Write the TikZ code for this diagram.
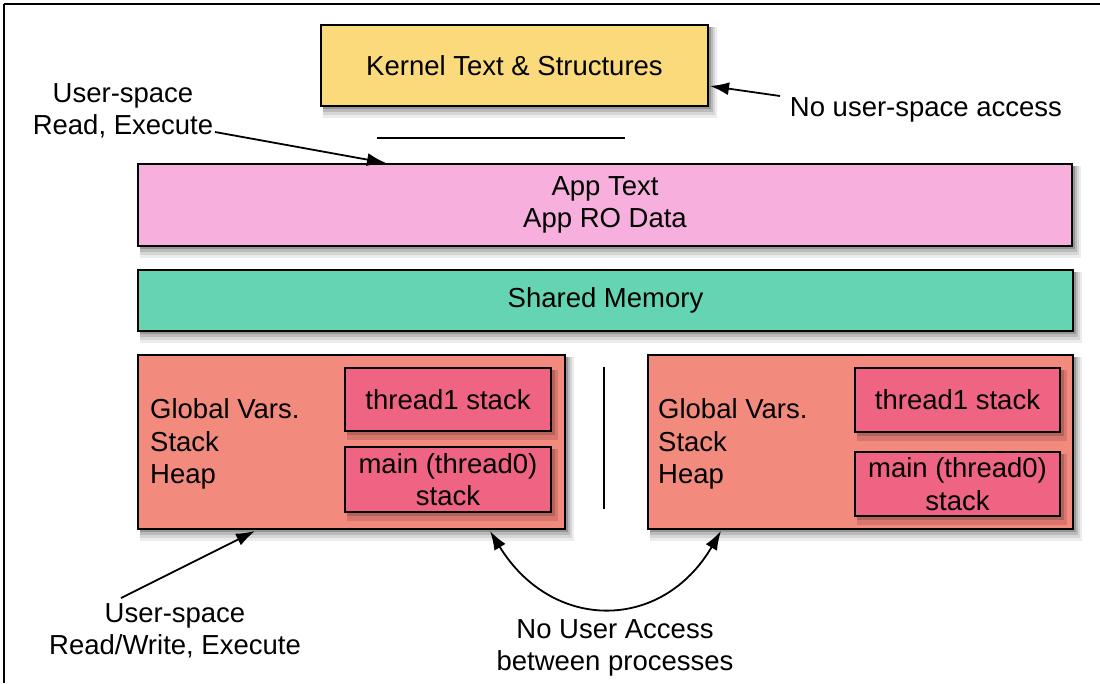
\documentclass[tikz,border=0pt]{standalone}
\usepackage{fontspec}
\setmainfont{Liberation Sans}
\usetikzlibrary{arrows.meta}
\definecolor{kernelc}{RGB}{250,218,122}
\definecolor{appc}{RGB}{247,175,221}
\definecolor{sharedc}{RGB}{100,212,178}
\definecolor{procc}{RGB}{243,138,126}
\definecolor{innerc}{RGB}{239,100,131}
\definecolor{sh1}{RGB}{236,236,236}
\definecolor{sh2}{RGB}{214,214,214}
\definecolor{sh3}{RGB}{186,186,186}
\definecolor{sh4}{RGB}{150,150,150}
\definecolor{ish1}{RGB}{214,118,108}
\definecolor{ish2}{RGB}{180,98,90}
\tikzset{
  membox/.style={draw=black,line width=1.6pt,inner sep=0pt,align=center},
  lbl/.style={font=\fontsize{27.5}{32.5}\selectfont,align=center,inner sep=0pt},
  arr/.style={-{Latex[length=19pt,width=13pt]},line width=1.8pt},
  darr/.style={{Latex[length=19pt,width=13pt]}-{Latex[length=19pt,width=13pt]},line width=1.8pt}
}
\begin{document}
\begin{tikzpicture}[x=1pt,y=-1pt]
\useasboundingbox (0,0) rectangle (1100,683);
\fill[white] (0,0) rectangle (1100,683);
% frame
\draw[line width=1.6pt] (4,4) -- (1100,4);
\draw[line width=1.6pt] (4,4) -- (4,683);
% shadows of outer boxes
\foreach \xa/\ya/\xb/\yb in {321/25/708/106,138/164/1072/246,138/270/1073/331,138/355/565/529,648/355/1073/529}{
  \fill[sh1] (\xa+2,\ya+2) rectangle (\xb+9,\yb+12);
  \fill[sh2] (\xa+2,\ya+2) rectangle (\xb+7,\yb+9);
  \fill[sh3] (\xa+2,\ya+2) rectangle (\xb+5,\yb+6);
  \fill[sh4] (\xa+2,\ya+2) rectangle (\xb+3,\yb+3);
}
% boxes
\node[membox,fill=kernelc,minimum width=387pt,minimum height=81pt,lbl] (kernel) at (514.5,65.5) {Kernel Text \& Structures};
\node[membox,fill=appc,minimum width=934pt,minimum height=82pt,lbl] (app) at (605,205) {App Text\\App RO Data};
\node[membox,fill=sharedc,minimum width=935pt,minimum height=61pt,lbl] (shared) at (605.5,300.5) {Shared Memory};
\node[membox,fill=procc,minimum width=427pt,minimum height=174pt] (p1) at (351.5,442) {};
\node[membox,fill=procc,minimum width=425pt,minimum height=174pt] (p2) at (860.5,442) {};
% shadows of inner boxes
\foreach \xa/\ya/\xb/\yb in {345/368/551/431,345/447/551/512,855/368/1060/432,855/452/1060/516}{
  \fill[ish1] (\xa+2,\ya+2) rectangle (\xb+7,\yb+9);
  \fill[ish2] (\xa+2,\ya+2) rectangle (\xb+3.5,\yb+4);
}
\node[membox,fill=innerc,minimum width=206pt,minimum height=63pt,lbl] (t1a) at (448,399.5) {thread1 stack};
\node[membox,fill=innerc,minimum width=206pt,minimum height=65pt,lbl] (m1a) at (448,479.5) {main (thread0)\\stack};
\node[membox,fill=innerc,minimum width=205pt,minimum height=64pt,lbl] (t1b) at (957.5,400) {thread1 stack};
\node[membox,fill=innerc,minimum width=205pt,minimum height=64pt,lbl] (m1b) at (957.5,484) {main (thread0)\\stack};
\node[lbl,align=left,anchor=west] (g1) at (150,444) {Global Vars.\\Stack\\Heap};
\node[lbl,align=left,anchor=west] (g2) at (658,444) {Global Vars.\\Stack\\Heap};
% separators
\coordinate (hl1) at (377,138); \coordinate (hl2) at (625,138);
\draw[line width=1.6pt] (hl1) -- (hl2);
\coordinate (vl1) at (604,367); \coordinate (vl2) at (604,509);
\draw[line width=1.6pt] (vl1) -- (vl2);
% labels
\node[lbl] (nua) at (926,110) {No user-space access};
\node[lbl] (ure) at (123,111) {User-space\\Read, Execute};
\node[lbl] (urw) at (175,631) {User-space\\Read/Write, Execute};
\node[lbl] (nub) at (615,648) {No User Access\\between processes};
% arrows
\coordinate (a1s) at (780,96); \coordinate (a1e) at (710,86);
\draw[arr] (a1s) -- (a1e);
\coordinate (a2s) at (215,132); \coordinate (a2e) at (386,163);
\draw[arr] (a2s) -- (a2e);
\coordinate (a3s) at (121,598); \coordinate (a3e) at (255,531);
\draw[arr] (a3s) -- (a3e);
\coordinate (a4s) at (490,531); \coordinate (a4e) at (721,531);
\draw[darr] (a4s) .. controls (552,632) and (662,632) .. (a4e);
\end{tikzpicture}
\end{document}
